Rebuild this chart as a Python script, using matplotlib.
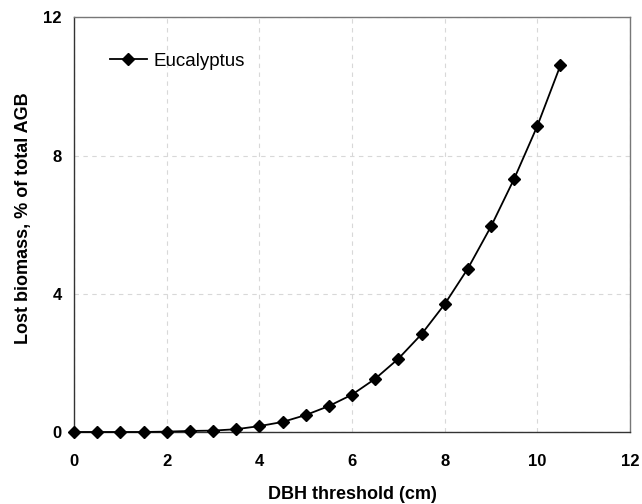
import matplotlib as mpl
mpl.use("Agg")
import matplotlib.pyplot as plt

# data
dbh = [0, 0.5, 1, 1.5, 2, 2.5, 3, 3.5, 4, 4.5, 5, 5.5, 6, 6.5, 7, 7.5, 8, 8.5, 9, 9.5, 10, 10.5]
lost = [0.0, 0.0, 0.0, 0.0, 0.01, 0.03, 0.04, 0.08, 0.17, 0.29, 0.49, 0.75, 1.08, 1.54,
        2.12, 2.83, 3.70, 4.73, 5.95, 7.33, 8.86, 10.62]
xticks = [0, 2, 4, 6, 8, 10, 12]
yticks = [0, 4, 8, 12]

plt.rcParams['font.family'] = ['Liberation Sans', 'DejaVu Sans']

fig = plt.figure(figsize=(6.42, 5.04), dpi=100)
ax = fig.add_axes([0.1153, 0.1429, 0.866, 0.8224])

ax.plot(dbh, lost, color="black", linewidth=1.3, marker="D", markersize=6.5,
        markerfacecolor="black", markeredgecolor="black", label="Eucalyptus", clip_on=False, zorder=3)

ax.set_xlim(0, 12)
ax.set_ylim(0, 12)
ax.set_xticks(xticks)
ax.set_yticks(yticks)
ax.set_xticklabels([str(t) for t in xticks], fontsize=12, fontweight="bold")
ax.set_yticklabels([str(t) for t in yticks], fontsize=12, fontweight="bold")
ax.tick_params(axis="y", length=0, pad=9)
ax.tick_params(axis="x", length=0, pad=16)

ax.grid(True, color="#d8d8d8", linestyle=(0, (4, 4)), linewidth=0.8)
ax.set_axisbelow(True)

for s in ["left", "bottom"]:
    ax.spines[s].set_color("#333333")
    ax.spines[s].set_linewidth(1.0)
for s in ["top", "right"]:
    ax.spines[s].set_color("#777777")
    ax.spines[s].set_linewidth(1.0)

ax.set_xlabel("DBH threshold (cm)", fontsize=13, fontweight="bold", labelpad=12)
ax.set_ylabel("Lost biomass, % of total AGB", fontsize=13, fontweight="bold")
ax.yaxis.set_label_coords(-0.075, 0.516)

leg = ax.legend(loc="center left", bbox_to_anchor=(0.051, 0.895), borderaxespad=0,
                frameon=False, fontsize=13.5, handlelength=1.97, handletextpad=0.37)

fig.savefig("out.png", dpi=100)
